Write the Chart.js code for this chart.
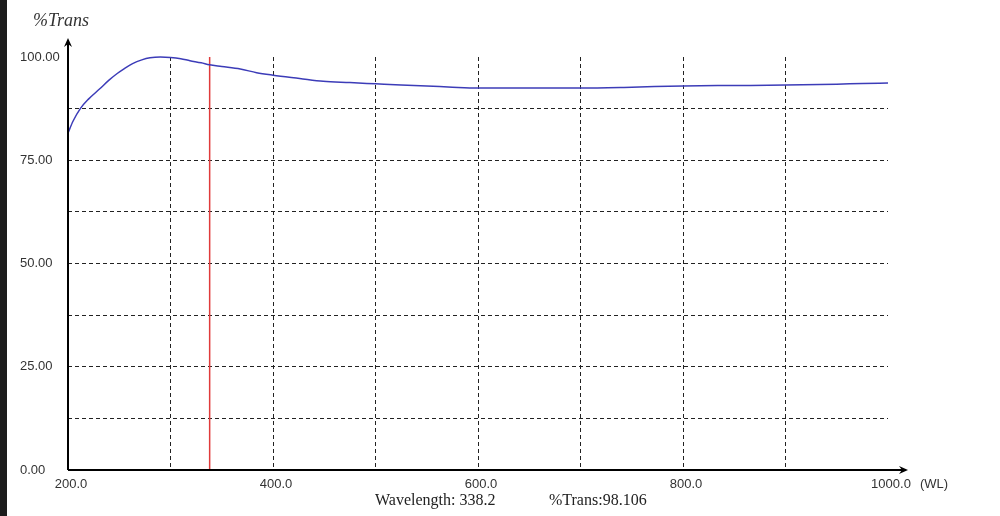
<!DOCTYPE html>
<html>
<head>
<meta charset="utf-8">
<script src="https://cdn.jsdelivr.net/npm/chart.js@4/dist/chart.umd.min.js"></script>
<style>
  html, body { margin: 0; padding: 0; background: #fff; }
  #wrap { width: 1000px; height: 516px; }
</style>
</head>
<body>
<div id="wrap"><canvas id="specChart" width="1000" height="516"></canvas></div>
<script>
// 파장 (nm) / 투과율 (%) - 그림에서 읽은 값
const wavelengths = [200, 205, 212, 220, 231, 240, 248, 255, 263, 272, 280, 290, 300, 310, 319, 330, 338, 350, 368, 384,
                     400, 426, 449, 475, 500, 525, 550, 575, 600, 650, 700, 750, 800, 850, 900, 950, 975, 1000];
const transValues = [81.6, 84.5, 87.5, 89.8, 92.3, 94.4, 96.0, 97.2, 98.4, 99.3, 99.8, 100.0, 99.9, 99.6, 99.1, 98.6, 98.1, 97.7, 97.1, 96.2,
                     95.6, 94.8, 94.1, 93.8, 93.5, 93.2, 93.0, 92.7, 92.5, 92.5, 92.5, 92.7, 93.0, 93.1, 93.2, 93.4, 93.6, 93.7];

// 커서 위치
const cursorWL = [338.2, 338.2];
const cursorY = [0, 100];
const cursorTrans = 98.106;

// 눈금 라벨
const xLabelTicks = [200, 400, 600, 800, 1000];
const yLabelTicks = [0, 25, 50, 75, 100];

const curvePoints = wavelengths.map((w, i) => ({ x: w, y: transValues[i] }));
const cursorPoints = cursorWL.map((w, i) => ({ x: w, y: cursorY[i] }));

/*
 * 축 화살표, 제목, 커서 읽기값 그리기
 */
const decorPlugin = {
    id: 'decor',
    beforeDraw(chart) {
        const ctx = chart.ctx;
        ctx.save();
        ctx.fillStyle = '#fff';
        ctx.fillRect(0, 0, chart.width, chart.height);
        ctx.fillStyle = '#1c1c1c';
        ctx.fillRect(0, 0, 7, chart.height);
        ctx.restore();
    },
    afterDraw(chart) {
        const ctx = chart.ctx;
        const xs = chart.scales.x;
        const ys = chart.scales.y;
        const x0 = xs.getPixelForValue(200);
        const y0 = ys.getPixelForValue(0);
        const yTop = ys.getPixelForValue(100) - 19;
        const xEnd = xs.getPixelForValue(1000) + 20;

        ctx.save();
        ctx.strokeStyle = '#000';
        ctx.fillStyle = '#000';
        ctx.lineWidth = 2;
        ctx.beginPath();
        ctx.moveTo(x0, y0);
        ctx.lineTo(x0, yTop + 2);
        ctx.moveTo(x0, y0);
        ctx.lineTo(xEnd - 2, y0);
        ctx.stroke();
        // 화살표
        ctx.beginPath();
        ctx.moveTo(x0, yTop);
        ctx.lineTo(x0 - 4, yTop + 9);
        ctx.lineTo(x0, yTop + 6);
        ctx.lineTo(x0 + 4, yTop + 9);
        ctx.closePath();
        ctx.fill();
        ctx.beginPath();
        ctx.moveTo(xEnd, y0);
        ctx.lineTo(xEnd - 9, y0 - 4);
        ctx.lineTo(xEnd - 6, y0);
        ctx.lineTo(xEnd - 9, y0 + 4);
        ctx.closePath();
        ctx.fill();

        // 제목
        ctx.fillStyle = '#333';
        ctx.font = 'italic 18px "Liberation Serif"';
        ctx.textBaseline = 'middle';
        ctx.textAlign = 'left';
        ctx.fillText('%Trans', 33, 21);

        ctx.font = '13px "Liberation Sans"';
        ctx.fillText('(WL)', xs.getPixelForValue(1000) + 32, 484);

        // 커서 읽기값
        ctx.fillStyle = '#222';
        ctx.font = '16px "Liberation Serif"';
        ctx.fillText('Wavelength: ' + cursorWL[0].toFixed(1), 375, 501);
        ctx.fillText('%Trans:' + cursorTrans.toFixed(3), 549, 501);
        ctx.restore();
    }
};

document.addEventListener("DOMContentLoaded", function () {
    const ctx = document.getElementById('specChart').getContext('2d');

    new Chart(ctx, {
        type: 'line',
        data: {
            datasets: [{
                data: curvePoints,
                borderColor: '#3c3cb8',
                borderWidth: 1.5,
                pointRadius: 0,
                cubicInterpolationMode: 'monotone',
                clip: false,
                fill: false
            }, {
                data: cursorPoints,
                borderColor: '#e03a3a',
                borderWidth: 1.5,
                pointRadius: 0,
                clip: false,
                fill: false
            }]
        },
        options: {
            responsive: false,
            devicePixelRatio: 1,
            animation: false,
            events: [],
            layout: {
                padding: { left: 20, top: 57, right: 112, bottom: 26 }
            },
            plugins: {
                legend: { display: false },
                tooltip: { enabled: false }
            },
            scales: {
                x: {
                    type: 'linear',
                    min: 200,
                    max: 1000,
                    afterFit: (scale) => { scale.height = 20; },
                    ticks: {
                        stepSize: 100,
                        padding: 7,
                        labelOffset: 3,
                        maxRotation: 0,
                        autoSkip: false,
                        color: '#333',
                        font: { family: 'Liberation Sans', size: 13 },
                        callback: (v) => xLabelTicks.includes(v) ? v.toFixed(1) : ''
                    },
                    grid: {
                        drawTicks: false,
                        lineWidth: 1,
                        color: (c) => (c.tick && c.tick.value > 200 && c.tick.value < 1000) ? '#222' : 'rgba(0,0,0,0)'
                    },
                    border: { display: false, dash: [4, 3] }
                },
                y: {
                    min: 0,
                    max: 100,
                    afterFit: (scale) => { scale.width = 48; },
                    ticks: {
                        stepSize: 12.5,
                        padding: 6,
                        crossAlign: 'far',
                        autoSkip: false,
                        color: '#333',
                        font: { family: 'Liberation Sans', size: 13 },
                        callback: (v) => yLabelTicks.includes(v) ? v.toFixed(2) : ''
                    },
                    grid: {
                        drawTicks: false,
                        lineWidth: 1,
                        color: (c) => (c.tick && c.tick.value > 0 && c.tick.value < 100) ? '#222' : 'rgba(0,0,0,0)'
                    },
                    border: { display: false, dash: [4, 3] }
                }
            }
        },
        plugins: [decorPlugin]
    });
});
</script>
</body>
</html>
